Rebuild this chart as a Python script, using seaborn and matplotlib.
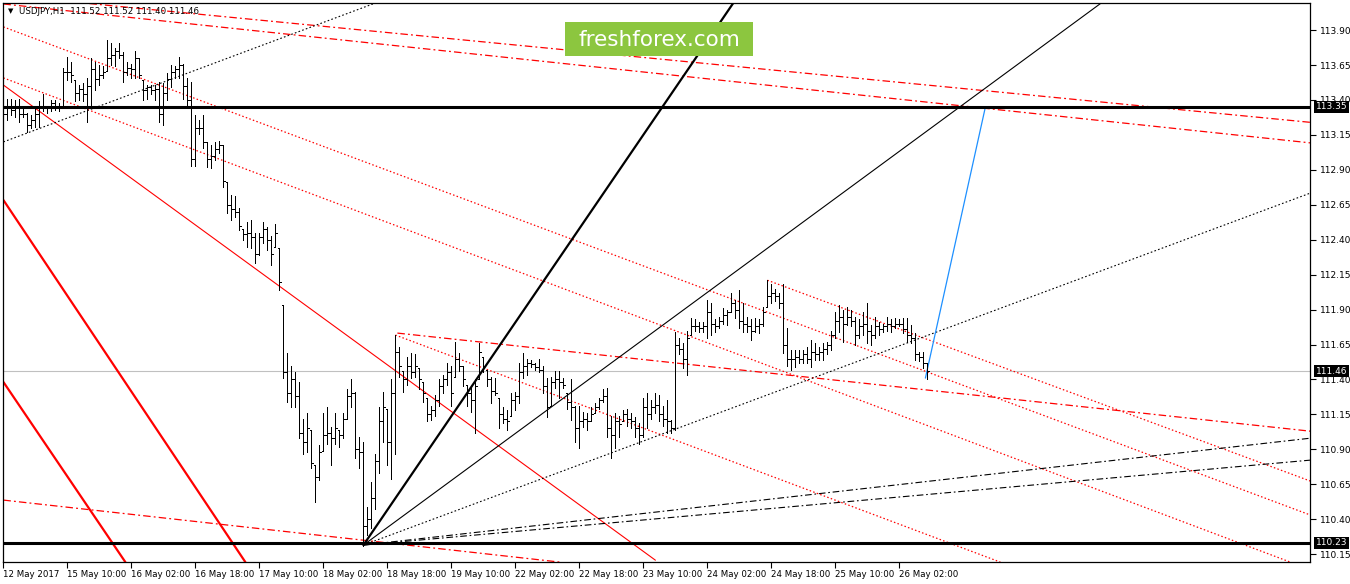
import numpy as np
import matplotlib
matplotlib.use("Agg")
import matplotlib.pyplot as plt
import matplotlib.transforms as mtransforms
from matplotlib.patches import Rectangle
import seaborn as sns

# hourly USDJPY bars, 12 May 18:00 .. 26 May 09:00
highs = [
    113.41, 113.41, 113.41, 113.40, 113.41, 113.35, 113.31, 113.29, 113.34, 113.39,
    113.44, 113.36, 113.40, 113.40, 113.38, 113.63, 113.71, 113.67, 113.54, 113.51,
    113.52, 113.56, 113.70, 113.67, 113.65, 113.64, 113.83, 113.81, 113.77, 113.81,
    113.74, 113.67, 113.66, 113.75, 113.70, 113.54, 113.51, 113.51, 113.51, 113.53,
    113.52, 113.59, 113.65, 113.64, 113.71, 113.66, 113.56, 113.53, 113.29, 113.26,
    113.29, 113.10, 113.08, 113.10, 113.11, 113.08, 112.81, 112.72, 112.71, 112.63,
    112.48, 112.53, 112.54, 112.45, 112.45, 112.53, 112.49, 112.43, 112.51, 112.34,
    111.93, 111.59, 111.50, 111.45, 111.38, 111.12, 111.16, 111.04, 110.79, 110.93,
    111.16, 111.20, 111.06, 111.16, 111.04, 111.16, 111.33, 111.40, 111.31, 110.99,
    110.95, 110.49, 110.67, 110.87, 111.20, 111.31, 111.19, 111.40, 111.72, 111.63,
    111.46, 111.56, 111.59, 111.58, 111.48, 111.38, 111.27, 111.21, 111.29, 111.40,
    111.43, 111.52, 111.50, 111.67, 111.59, 111.50, 111.36, 111.34, 111.40, 111.66,
    111.56, 111.47, 111.42, 111.41, 111.27, 111.20, 111.18, 111.30, 111.31, 111.52,
    111.59, 111.55, 111.54, 111.52, 111.55, 111.50, 111.41, 111.42, 111.46, 111.46,
    111.41, 111.30, 111.40, 111.21, 111.21, 111.17, 111.16, 111.20, 111.23, 111.27,
    111.33, 111.34, 111.14, 111.16, 111.14, 111.18, 111.19, 111.16, 111.13, 111.09,
    111.27, 111.30, 111.25, 111.30, 111.29, 111.21, 111.25, 111.11, 111.74, 111.70,
    111.66, 111.75, 111.84, 111.83, 111.81, 111.81, 111.97, 111.95, 111.83, 111.85,
    111.91, 111.90, 112.02, 111.97, 112.04, 111.95, 111.85, 111.83, 111.84, 111.83,
    111.92, 112.11, 112.08, 112.05, 112.02, 112.08, 111.77, 111.61, 111.61, 111.61,
    111.61, 111.63, 111.68, 111.66, 111.63, 111.66, 111.67, 111.75, 111.88, 111.93,
    111.90, 111.92, 111.90, 111.85, 111.83, 111.88, 111.95, 111.79, 111.85, 111.81,
    111.80, 111.85, 111.83, 111.84, 111.83, 111.84, 111.84, 111.79, 111.73, 111.60,
    111.60, 111.52,
]
lows = [
    113.17, 113.26, 113.29, 113.28, 113.24, 113.28, 113.17, 113.20, 113.21, 113.21,
    113.32, 113.31, 113.32, 113.33, 113.32, 113.35, 113.54, 113.53, 113.39, 113.40,
    113.39, 113.24, 113.34, 113.47, 113.51, 113.56, 113.61, 113.65, 113.64, 113.70,
    113.53, 113.58, 113.56, 113.56, 113.56, 113.40, 113.41, 113.44, 113.40, 113.24,
    113.22, 113.40, 113.49, 113.56, 113.56, 113.41, 113.34, 112.93, 112.93, 113.16,
    113.06, 112.92, 112.91, 112.97, 113.02, 112.78, 112.59, 112.54, 112.56, 112.47,
    112.40, 112.35, 112.34, 112.23, 112.29, 112.38, 112.33, 112.22, 112.35, 112.04,
    111.41, 111.24, 111.20, 111.20, 110.98, 110.87, 110.88, 110.77, 110.52, 110.68,
    110.89, 110.94, 110.79, 110.94, 110.92, 110.98, 111.12, 111.20, 110.84, 110.77,
    110.21, 110.29, 110.34, 110.47, 110.73, 110.95, 110.79, 110.69, 110.87, 111.42,
    111.31, 111.36, 111.41, 111.42, 111.33, 111.24, 111.10, 111.11, 111.14, 111.21,
    111.30, 111.36, 111.21, 111.42, 111.46, 111.35, 111.21, 111.17, 111.02, 111.40,
    111.45, 111.35, 111.23, 111.29, 111.05, 111.09, 111.04, 111.14, 111.18, 111.23,
    111.41, 111.43, 111.49, 111.47, 111.45, 111.30, 111.13, 111.21, 111.34, 111.27,
    111.34, 111.19, 111.11, 110.95, 110.91, 111.06, 111.04, 111.10, 111.16, 111.19,
    111.24, 110.99, 110.84, 110.91, 110.99, 111.10, 111.07, 111.05, 110.99, 110.94,
    110.99, 111.05, 111.12, 111.16, 111.10, 111.07, 111.02, 111.02, 111.04, 111.58,
    111.48, 111.43, 111.72, 111.75, 111.74, 111.74, 111.70, 111.72, 111.74, 111.77,
    111.80, 111.79, 111.88, 111.84, 111.77, 111.74, 111.74, 111.68, 111.74, 111.73,
    111.78, 111.92, 111.95, 111.96, 111.91, 111.59, 111.50, 111.47, 111.49, 111.52,
    111.52, 111.52, 111.49, 111.54, 111.54, 111.54, 111.58, 111.61, 111.70, 111.74,
    111.67, 111.79, 111.78, 111.65, 111.70, 111.72, 111.66, 111.65, 111.70, 111.72,
    111.74, 111.75, 111.74, 111.77, 111.78, 111.73, 111.67, 111.66, 111.54, 111.53,
    111.48, 111.40,
]
closes = [
    113.30, 113.35, 113.33, 113.36, 113.30, 113.30, 113.22, 113.26, 113.30, 113.36,
    113.35, 113.34, 113.38, 113.36, 113.35, 113.60, 113.60, 113.58, 113.45, 113.48,
    113.44, 113.50, 113.62, 113.55, 113.58, 113.60, 113.70, 113.72, 113.75, 113.72,
    113.60, 113.63, 113.62, 113.70, 113.58, 113.47, 113.49, 113.47, 113.48, 113.30,
    113.45, 113.55, 113.60, 113.62, 113.65, 113.50, 113.40, 112.98, 113.20, 113.20,
    113.10, 112.98, 113.00, 113.05, 113.08, 112.82, 112.65, 112.62, 112.60, 112.50,
    112.44, 112.45, 112.42, 112.30, 112.42, 112.48, 112.40, 112.30, 112.45, 112.10,
    111.45, 111.30, 111.40, 111.28, 111.02, 110.95, 111.05, 110.80, 110.70, 110.88,
    111.00, 111.02, 110.98, 111.05, 111.00, 111.12, 111.28, 111.30, 110.90, 110.88,
    110.35, 110.40, 110.55, 110.82, 111.10, 111.20, 110.95, 111.30, 111.60, 111.50,
    111.40, 111.50, 111.45, 111.50, 111.40, 111.30, 111.15, 111.18, 111.25, 111.35,
    111.40, 111.45, 111.30, 111.55, 111.50, 111.40, 111.30, 111.25, 111.35, 111.60,
    111.50, 111.40, 111.32, 111.30, 111.15, 111.12, 111.10, 111.25, 111.28, 111.45,
    111.50, 111.52, 111.51, 111.49, 111.47, 111.35, 111.20, 111.38, 111.40, 111.38,
    111.36, 111.24, 111.20, 111.05, 111.10, 111.12, 111.10, 111.15, 111.20, 111.25,
    111.28, 111.05, 111.00, 111.10, 111.08, 111.15, 111.12, 111.10, 111.05, 111.00,
    111.20, 111.15, 111.20, 111.22, 111.15, 111.12, 111.10, 111.05, 111.65, 111.62,
    111.55, 111.70, 111.78, 111.78, 111.77, 111.78, 111.88, 111.80, 111.78, 111.82,
    111.86, 111.88, 111.95, 111.90, 111.82, 111.80, 111.78, 111.75, 111.78, 111.80,
    111.88, 112.00, 112.02, 112.00, 111.95, 111.65, 111.55, 111.55, 111.56, 111.55,
    111.58, 111.55, 111.60, 111.58, 111.60, 111.62, 111.65, 111.72, 111.82, 111.85,
    111.80, 111.85, 111.82, 111.72, 111.78, 111.80, 111.75, 111.72, 111.78, 111.76,
    111.78, 111.80, 111.78, 111.80, 111.80, 111.76, 111.72, 111.70, 111.58, 111.56,
    111.52, 111.46,
]
first_open = 113.35

time_labels = ["12 May 2017", "15 May 10:00", "16 May 02:00", "16 May 18:00",
               "17 May 10:00", "18 May 02:00", "18 May 18:00", "19 May 10:00",
               "22 May 02:00", "22 May 18:00", "23 May 10:00", "24 May 02:00",
               "24 May 18:00", "25 May 10:00", "26 May 02:00"]
label_bars = [0, 16, 32, 48, 64, 80, 96, 112, 128, 144, 160, 176, 192, 208, 224]

price_ticks = [110.15, 110.40, 110.65, 110.90, 111.15, 111.40, 111.65, 111.90,
               112.15, 112.40, 112.65, 112.90, 113.15, 113.40, 113.65, 113.90]

level_top = 113.35
level_bottom = 110.23
last_price = 111.46
header = "USDJPY,H1  111.52 111.52 111.40 111.46"

# drawn objects: (bar, price) end points
red_solid = [(0, 113.507), (163, 110.107)]
red_thick = [[(0, 112.684), (60.5, 110.093)], [(0, 111.382), (30.5, 110.093)]]
red_dotted = [[(0, 113.923), (326.75, 110.43)],
              [(0, 113.558), (321.75, 110.093)],
              [(98, 111.718), (249.25, 110.093)],
              [(191, 112.11), (326.75, 110.673)]]
red_dashdot = [[(0, 114.15), (326.75, 113.24)],
               [(0, 114.087), (326.75, 113.093)],
               [(98.5, 111.732), (326.75, 111.03)],
               [(0, 110.537), (139.25, 110.093)]]
fan_origin = (90, 110.215)
fan_thick_end = (183, 114.116)
fan_thin_end = (275.5, 114.116)
fan_dotted_end = (326.75, 112.734)
fan_dashdot_ends = [(326.75, 110.98), (326.75, 110.823)]
black_dotted_upper = [(0, 113.10), (93, 114.094)]
blue_arrow = [(230.5, 111.41), (245.5, 113.35)]

sns.set_style("white")
plt.rcParams['font.family'] = ['DejaVu Sans']

W, H = 1350, 584
fig = plt.figure(figsize=(W / 100, H / 100), dpi=100)
ax = fig.add_axes([3 / W, 22 / H, 1307 / W, 559 / H])


def seg(points, color, lw, ls):
    xs = [p[0] for p in points]
    ys = [p[1] for p in points]
    sns.lineplot(x=xs, y=ys, ax=ax, color=color, lw=lw, linestyle=ls, sort=False)


dot = (0, (1.2, 1.8))
bdot = (0, (1.5, 2.0))
dashdot = (0, (6, 2.5, 1.5, 2.5))

# horizontal levels
ax.axhline(last_price, color="#c0c0c0", lw=0.8, zorder=1)
ax.axhline(level_top, color="black", lw=2.2, zorder=4)
ax.axhline(level_bottom, color="black", lw=2.2, zorder=4)

seg(red_solid, "red", 0.8, "-")
for ln in red_thick:
    seg(ln, "red", 1.6, "-")
for ln in red_dotted:
    seg(ln, "red", 0.9, dot)
for ln in red_dashdot:
    seg(ln, "red", 0.9, dashdot)

seg([fan_origin, fan_thick_end], "black", 1.6, "-")
seg([fan_origin, fan_thin_end], "black", 0.8, "-")
seg([fan_origin, fan_dotted_end], "black", 0.8, bdot)
for end in fan_dashdot_ends:
    seg([fan_origin, end], "black", 0.8, dashdot)
seg(black_dotted_upper, "black", 0.8, bdot)
seg(blue_arrow, "#1e90ff", 0.9, "-")

# OHLC bars
x = np.arange(len(highs))
hi = np.array(highs)
lo = np.array(lows)
cl = np.array(closes)
op = np.clip(np.r_[first_open, cl[:-1]], lo, hi)
ax.vlines(x, lo, hi, color="black", lw=0.72, zorder=3, antialiased=False)
ax.hlines(op, x - 0.35, x, color="black", lw=0.72, zorder=3, antialiased=False)
ax.hlines(cl, x, x + 0.35, color="black", lw=0.72, zorder=3, antialiased=False)

ax.set_xlim(-0.1, 326.65)
ax.set_ylim(110.094, 114.094)

# axes / ticks, MT4 look
for s in ax.spines.values():
    s.set_visible(True)
    s.set_color("black")
    s.set_linewidth(0.9)
ax.yaxis.tick_right()
ax.set_yticks(price_ticks)
ax.set_yticklabels([f"{v:.2f}" for v in price_ticks])
ax.set_xticks(label_bars)
ax.set_xticklabels(time_labels, ha="left")
ax.tick_params(axis="y", direction="out", length=4, width=0.8, labelsize=6.5, pad=3,
               colors="black", right=True, left=False)
ax.tick_params(axis="x", direction="out", length=4, width=0.8, labelsize=6.2, pad=2,
               colors="black", bottom=True)
ax.set_xlabel("")
ax.set_ylabel("")
ax.grid(False)

trans = mtransforms.blended_transform_factory(ax.transAxes, ax.transData)
for v in [level_top, last_price, level_bottom]:
    ax.text(1.0 + 6 / 1307, v, f"{v:.2f}", transform=trans, ha="left", va="center",
            color="white", fontsize=6.5, clip_on=False, zorder=10,
            bbox=dict(boxstyle="square,pad=0.2", fc="black", ec="none"))

ax.text(5 / 1307, 1 - 8 / 559, "\u25bc", transform=ax.transAxes, fontsize=5,
        ha="left", va="center", color="black")
ax.text(16 / 1307, 1 - 8 / 559, header, transform=ax.transAxes, fontsize=6.2,
        ha="left", va="center", color="black")

# logo box
fig.patches.append(Rectangle((565 / W, 1 - 56 / H), 188 / W, 34 / H,
                             transform=fig.transFigure, fc="#8cc63f", ec="none", zorder=20))
fig.text(659 / W, 1 - 40 / H, "freshforex.com", color="white", fontsize=15.5,
         ha="center", va="center", zorder=21)

fig.savefig("out.png", dpi=100, facecolor="white")
